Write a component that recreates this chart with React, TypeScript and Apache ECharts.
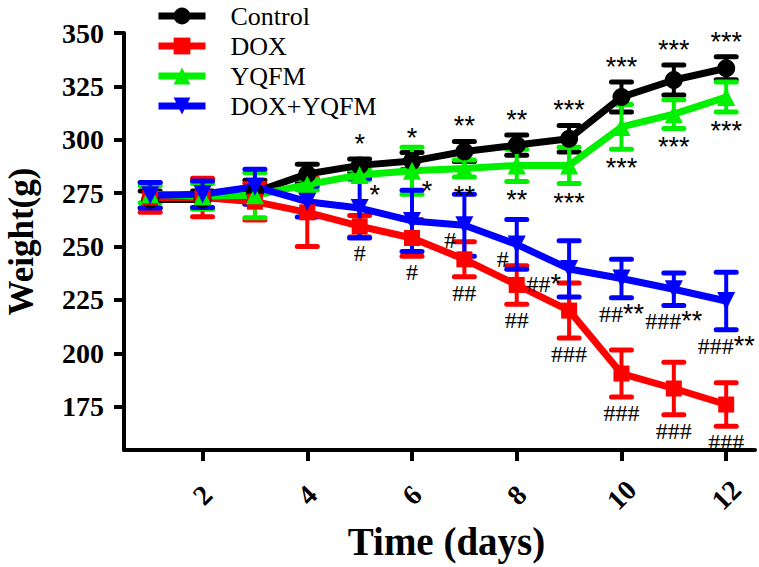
import React, { useEffect, useRef } from "react";
import * as echarts from "echarts";

// ---- data ----
const days = [1, 2, 3, 4, 5, 6, 7, 8, 9, 10, 11, 12];
const xTicks = [2, 4, 6, 8, 10, 12];
const yTicks = [175, 200, 225, 250, 275, 300, 325, 350];
const seriesNames = ["Control", "DOX", "YQFM", "DOX+YQFM"];

const controlMean = [272, 272, 275.5, 284, 288, 290, 294.5, 297.5, 300.5, 320, 328, 333.5];
const controlErr = [4, 4, 5.5, 4.5, 3, 4, 4.7, 4.7, 6.2, 7, 7, 5.4];
const doxMean = [273, 273, 271, 266, 259.5, 254, 244, 232, 220, 190.5, 183.5, 176];
const doxErr = [7, 9, 8.6, 16, 5, 8.6, 8.2, 9, 12.9, 11, 12.3, 10.2];
const yqfmMean = [274.5, 273.5, 274, 279, 283.5, 285.5, 286.5, 288, 288, 306, 312, 320];
const yqfmErr = [4, 6, 10.5, 2.5, 2.3, 11, 4, 7.5, 8.5, 10.5, 6.7, 7];
const comboMean = [274, 274.5, 278, 271, 268, 262, 260, 251, 239.5, 235, 230, 224.5];
const comboErr = [6, 6.2, 8.2, 7.2, 14, 14.3, 14.5, 11.7, 13.2, 9, 7.6, 13.5];

const controlLabels = ["", "", "", "", "*", "*", "**", "**", "***", "***", "***", "***"];
const yqfmLabels = ["", "", "", "", "*", "*", "**", "**", "***", "***", "***", "***"];
const doxLabels = ["", "", "", "", "#", "#", "##", "##", "###", "###", "###", "###"];
const comboLabels = ["", "", "", "", "", "", "#", "#", "##*", "##**", "###**", "###**"];

const SERIF = '"Liberation Serif", "Times New Roman", serif';
const SANS = '"Liberation Sans", Arial, sans-serif';

const BLACK = "#000000";
const RED = "#ff0000";
const GREEN = "#00f000";
const BLUE = "#0000ff";

function errSeries(name: string, color: string, mean: number[], err: number[]) {
  return {
    type: "custom",
    name: name + " SEM",
    silent: true,
    clip: false,
    data: days.map((d, i) => [d, mean[i], err[i]]),
    renderItem: (params: any, api: any) => {
      const x = api.value(0);
      const m = api.value(1);
      const e = api.value(2);
      const t = api.coord([x, m + e]);
      const b = api.coord([x, m - e]);
      const hw = 10;
      return {
        type: "group",
        children: [
          { type: "line", shape: { x1: t[0], y1: t[1], x2: b[0], y2: b[1] }, style: { stroke: color, lineWidth: 4 } },
          { type: "line", shape: { x1: t[0] - hw, y1: t[1], x2: t[0] + hw, y2: t[1] }, style: { stroke: color, lineWidth: 5, lineCap: "round" } },
          { type: "line", shape: { x1: b[0] - hw, y1: b[1], x2: b[0] + hw, y2: b[1] }, style: { stroke: color, lineWidth: 5, lineCap: "round" } },
        ],
      };
    },
  };
}

function richText(label: string) {
  return label.replace(/(#+)/g, "{h|$1}").replace(/(\*+)/g, "{s|$1}");
}

const rich = {
  h: { fontFamily: SERIF, fontSize: 24, fill: "#000", lineHeight: 20 },
  s: { fontFamily: SANS, fontSize: 27, fill: "#000", lineHeight: 20 },
};

type Mode = "control" | "yqfm" | "dox" | "combo";

function labelSeries(key: Mode, mean: number[], err: number[], labels: string[]) {
  return {
    type: "custom",
    name: key + " labels",
    silent: true,
    clip: false,
    z: 10,
    data: days.map((d, i) => [d, mean[i], err[i]]),
    renderItem: (params: any, api: any) => {
      const i = params.dataIndex;
      const label = labels[i];
      if (!label) return null;
      const x = api.value(0);
      const m = api.value(1);
      const e = api.value(2);
      const top = api.coord([x, m + e]);
      const bot = api.coord([x, m - e]);
      const mk = api.coord([x, m]);
      const onlyStars = !label.includes("#");
      const starShift = onlyStars ? 6 : 0;
      let px = mk[0];
      let py = 0;
      let align = "center";
      if (key === "control") {
        py = top[1] - 21 + starShift;
      } else if (key === "yqfm") {
        if (label === "*") {
          px = mk[0] + 15;
          py = mk[1] + 14 + starShift;
        } else {
          py = bot[1] + 13 + starShift;
        }
      } else if (key === "dox") {
        py = bot[1] + 16;
      } else {
        // DOX+YQFM: days 7-9 sit to the lower left of the marker, others under the bar
        if (x >= 7 && x <= 9) {
          px = mk[0] - 8;
          align = "right";
          py = mk[1] + 15;
        } else {
          py = bot[1] + 16;
        }
      }
      return {
        type: "text",
        x: px,
        y: py,
        style: {
          text: richText(label),
          rich,
          align,
          verticalAlign: "middle",
          fill: "#000",
        },
      };
    },
  };
}

function lineSeries(name: string, color: string, mean: number[], symbol: string, size: number) {
  return {
    type: "line",
    name,
    data: days.map((d, i) => [d, mean[i]]),
    symbol,
    symbolSize: size,
    showSymbol: true,
    lineStyle: { color, width: 7 },
    itemStyle: { color, opacity: 1 },
    emphasis: { disabled: true },
  };
}

export default function App() {
  const ref = useRef<HTMLDivElement>(null);
  useEffect(() => {
    if (!ref.current) return;
    const chart = echarts.init(ref.current, undefined, { renderer: "svg" });
    const axisFont = { fontFamily: SERIF, fontWeight: "bold", fontSize: 28, color: "#000" };
    chart.setOption({
      animation: false,
      backgroundColor: "#fff",
      grid: { left: 124, right: 4, top: 33, bottom: 117, containLabel: false, outerBoundsMode: "none" },
      legend: {
        data: seriesNames,
        orient: "vertical",
        left: 150,
        top: -2,
        itemWidth: 47,
        itemHeight: 21,
        itemGap: 4,
        selectedMode: false,
        lineStyle: { width: 7 },
        textStyle: { fontFamily: SERIF, fontSize: 26, color: "#000", padding: [0, 0, 0, 20], lineHeight: 22 },
      },
      xAxis: {
        type: "value",
        min: 0.5,
        max: 12.55,
        name: "Time (days)",
        nameLocation: "middle",
        nameGap: 60,
        nameTextStyle: { fontFamily: SERIF, fontWeight: "bold", fontSize: 39, color: "#000", padding: [0, 0, 0, 14] },
        axisLine: { onZero: false, lineStyle: { color: "#000", width: 4 } },
        axisTick: { customValues: xTicks, length: 11, lineStyle: { color: "#000", width: 4 } },
        axisLabel: { ...axisFont, customValues: xTicks, rotate: 45, align: "center", verticalAlign: "middle", margin: 45 },
        splitLine: { show: false },
      },
      yAxis: {
        type: "value",
        min: 154.7,
        max: 350,
        name: "Weight(g)",
        nameLocation: "middle",
        nameGap: 85,
        nameRotate: 90,
        nameTextStyle: { fontFamily: SERIF, fontWeight: "bold", fontSize: 35, color: "#000" },
        axisLine: { show: true, onZero: false, lineStyle: { color: "#000", width: 4 } },
        axisTick: { show: true, customValues: yTicks, length: 10, lineStyle: { color: "#000", width: 4 } },
        axisLabel: { ...axisFont, customValues: yTicks, margin: 20 },
        splitLine: { show: false },
      },
      series: [
        errSeries("Control", BLACK, controlMean, controlErr),
        lineSeries("Control", BLACK, controlMean, "circle", 18),
        errSeries("DOX", RED, doxMean, doxErr),
        lineSeries("DOX", RED, doxMean, "rect", 16),
        errSeries("YQFM", GREEN, yqfmMean, yqfmErr),
        lineSeries("YQFM", GREEN, yqfmMean, "triangle", 18),
        errSeries("DOX+YQFM", BLUE, comboMean, comboErr),
        lineSeries("DOX+YQFM", BLUE, comboMean, "path://M0,0L10,0L5,9Z", 18),
        labelSeries("control", controlMean, controlErr, controlLabels),
        labelSeries("yqfm", yqfmMean, yqfmErr, yqfmLabels),
        labelSeries("dox", doxMean, doxErr, doxLabels),
        labelSeries("combo", comboMean, comboErr, comboLabels),
      ],
    });
    return () => chart.dispose();
  }, []);
  return <div ref={ref} style={{ width: 759, height: 567, position: "absolute", left: 0, top: 0 }} />;
}
